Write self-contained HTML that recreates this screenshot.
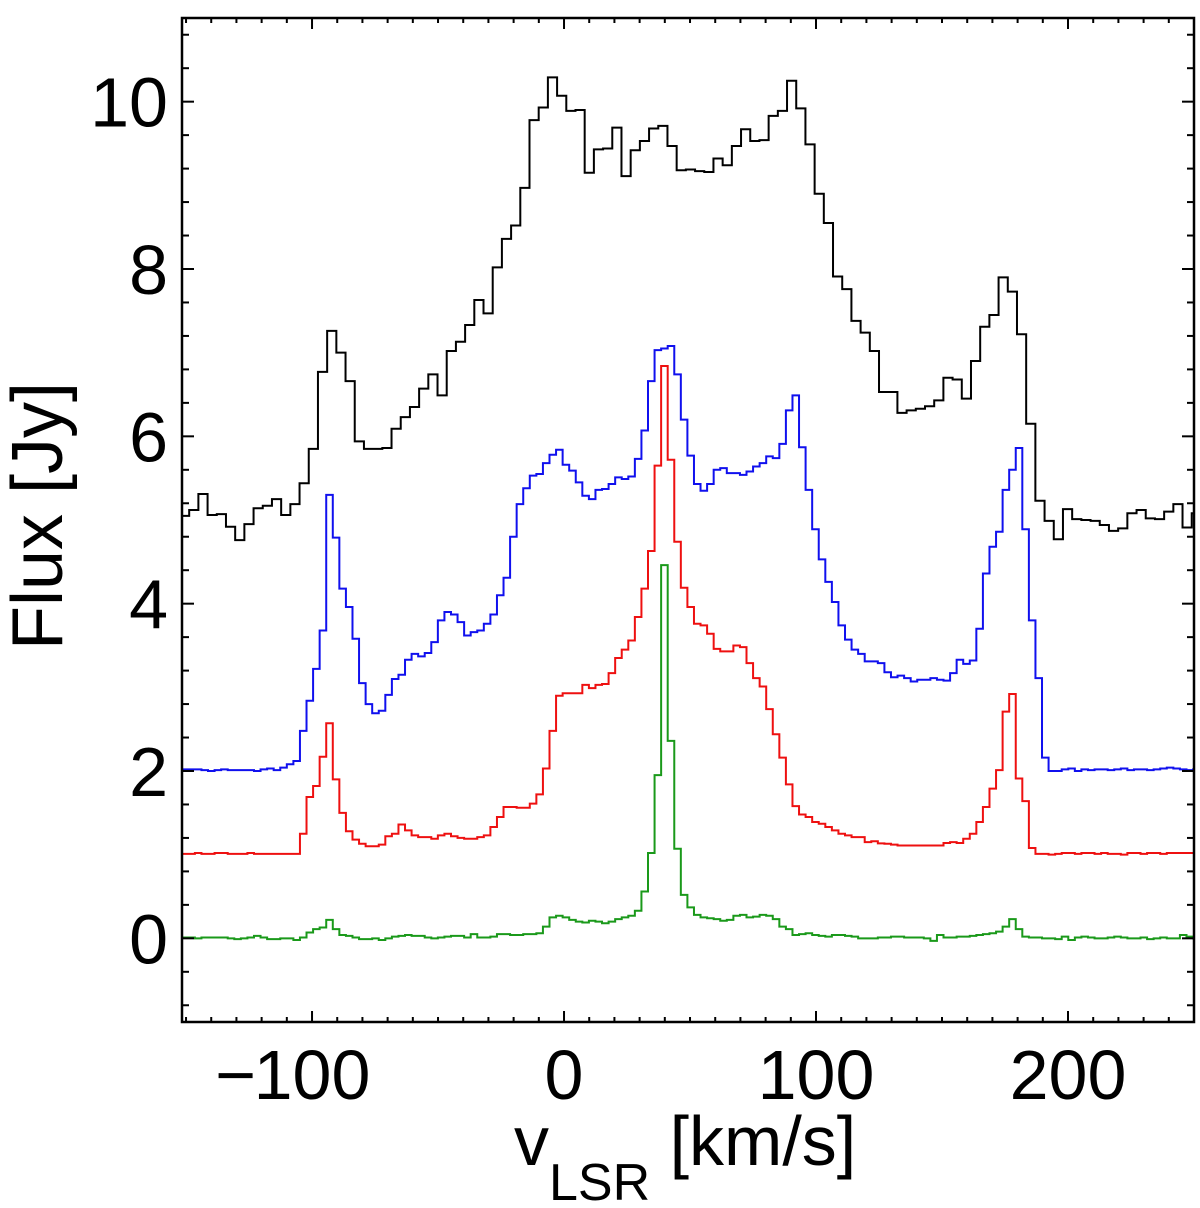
<!DOCTYPE html>
<html><head><meta charset="utf-8"><style>
html,body{margin:0;padding:0;background:#fff;}
svg{display:block;font-family:"Liberation Sans",sans-serif;}
</style></head><body>
<svg id="chart" width="1200" height="1208" viewBox="0 0 1200 1208" xmlns="http://www.w3.org/2000/svg">
<defs><clipPath id="plotclip"><rect x="182" y="18" width="1012" height="1004"/></clipPath></defs>
<g id="series" clip-path="url(#plotclip)"></g>
<g id="axes"></g>
<text transform="translate(62,516) rotate(-90)" text-anchor="middle" font-size="72">Flux [Jy]</text>
<text font-size="70"><tspan x="514" y="1165">v</tspan><tspan font-size="52" dy="35">LSR</tspan><tspan dy="-35"> [km/s]</tspan></text>
</svg>
<script>
const xTicksMajor = [-100, 0, 100, 200];
const xTickLabels = ["\u2212100", "0", "100", "200"];
const yTicksMajor = [0, 2, 4, 6, 8, 10];
const yTickLabels = ["0", "2", "4", "6", "8", "10"];
const xDomain = [-151.6, 250];
const yDomain = [-1, 11];

const blackStart = -152.4;
const blackWidth = 3.65;
const blackFlux = [5.05,5.12,5.31,5.06,5.07,4.92,4.76,4.95,5.14,5.17,
5.25,5.06,5.19,5.44,5.85,6.77,7.26,7.00,6.66,5.94,
5.85,5.85,5.86,6.09,6.23,6.35,6.57,6.74,6.49,7.02,
7.13,7.33,7.63,7.47,8.02,8.36,8.52,8.97,9.78,9.93,
10.29,10.07,9.89,9.90,9.15,9.43,9.44,9.69,9.11,9.42,
9.53,9.68,9.71,9.47,9.18,9.19,9.17,9.16,9.32,9.24,
9.47,9.67,9.53,9.54,9.83,9.89,10.25,9.92,9.49,8.90,
8.55,7.91,7.76,7.38,7.24,7.02,6.53,6.53,6.28,6.31,
6.33,6.36,6.43,6.70,6.68,6.45,6.90,7.31,7.45,7.90,
7.73,7.22,6.15,5.23,4.99,4.77,5.13,5.01,5.00,4.99,
4.94,4.87,4.90,5.08,5.12,5.02,5.01,5.10,5.19,4.91,5.08];

const fineStart = -151.7;
const fineWidth = 2.606;
const blueFlux = [2.02,2.02,2.02,2.01,2.00,2.01,2.02,2.01,2.01,2.01,2.01,2.00,2.02,2.03,2.01,2.04,2.08,
2.12,2.48,2.84,3.22,3.68,5.30,4.79,4.18,3.96,3.58,3.05,2.80,2.69,2.72,2.91,3.10,3.15,3.33,3.40,3.37,
3.41,3.54,3.80,3.90,3.87,3.78,3.62,3.66,3.68,3.76,3.87,4.10,4.31,4.80,5.19,5.38,5.53,5.55,5.68,
5.78,5.84,5.66,5.59,5.45,5.29,5.25,5.36,5.37,5.43,5.51,5.49,5.52,5.73,6.07,6.66,7.03,7.05,7.08,6.74,
6.20,5.77,5.43,5.35,5.43,5.60,5.62,5.56,5.56,5.54,5.58,5.64,5.68,5.76,5.74,5.91,6.31,6.49,5.87,5.36,
4.89,4.53,4.26,4.02,3.74,3.57,3.45,3.40,3.31,3.31,3.29,3.18,3.12,3.14,3.11,3.07,3.09,3.09,3.11,3.09,3.08,
3.17,3.33,3.28,3.32,3.70,4.36,4.68,4.86,5.36,5.60,5.86,4.89,3.80,3.11,2.16,2.00,
2.00,2.02,2.03,2.00,2.02,2.01,2.02,2.02,2.01,2.02,2.03,2.01,2.02,2.02,2.01,2.02,2.03,2.04,2.03,2.02,2.01,2.02];
const redFlux = [1.01,1.01,1.02,1.01,1.01,1.02,1.02,1.01,1.01,1.01,1.02,1.01,1.01,1.01,1.01,1.01,1.01,1.01,
1.25,1.69,1.82,2.17,2.57,1.90,1.50,1.28,1.18,1.13,1.10,1.10,1.12,1.22,1.25,1.36,1.29,1.23,1.21,1.21,
1.19,1.23,1.25,1.22,1.20,1.19,1.19,1.21,1.23,1.33,1.45,1.57,1.57,1.56,1.56,1.61,1.72,2.03,2.48,
2.90,2.93,2.93,2.93,3.03,2.99,3.03,3.04,3.17,3.35,3.45,3.56,3.84,4.18,
4.63,5.65,6.84,5.72,4.74,4.19,3.96,3.76,3.74,3.64,3.46,3.43,3.43,3.50,3.48,3.29,3.11,3.01,2.74,2.44,2.16,1.84,
1.58,1.48,1.45,1.39,1.37,1.33,1.29,1.25,1.23,1.21,1.21,1.15,1.16,
1.135,1.13,1.12,1.11,1.11,1.11,1.11,1.11,1.11,1.11,1.14,1.15,1.14,1.19,1.25,1.39,1.57,1.79,2.01,2.71,2.92,
1.91,1.64,1.08,1.01,1.01,1.00,1.01,1.02,1.02,1.01,1.02,1.02,1.01,1.02,1.01,1.01,1.00,1.02,1.02,1.01,1.02,1.02,1.01,1.02,1.02,1.02,1.02,1.02];
const greenFlux = [0.01,0.01,0.00,0.01,0.01,0.01,0.01,0.00,-0.01,0.00,0.01,0.03,0.01,-0.01,-0.01,0.00,0.00,-0.02,0.01,0.07,0.11,
0.13,0.22,0.11,0.04,0.03,0.01,-0.01,-0.01,0.00,-0.02,0.00,0.02,0.03,0.04,0.03,0.03,0.01,0.00,0.01,0.02,
0.03,0.03,0.01,0.05,0.01,0.01,0.02,0.05,0.05,0.04,0.04,0.05,0.05,0.06,0.14,0.25,0.27,0.25,0.22,0.20,
0.19,0.21,0.20,0.18,0.20,0.23,0.25,0.27,0.33,0.56,1.02,1.95,4.46,2.36,1.07,0.52,0.37,0.28,0.25,0.24,
0.23,0.21,0.22,0.27,0.28,0.25,0.26,0.28,0.27,0.23,0.14,0.11,0.04,0.05,0.06,0.04,0.03,0.02,0.04,0.04,
0.03,0.02,0.00,0.00,0.00,0.01,0.01,0.02,0.02,0.01,0.01,0.01,0.00,-0.03,0.04,0.01,0.01,0.02,0.02,0.03,
0.04,0.05,0.06,0.08,0.14,0.23,0.11,0.02,0.01,0.01,0.00,0.00,-0.01,0.02,-0.02,0.01,0.02,0.01,0.00,0.00,
0.01,0.02,0.01,0.00,0.00,0.01,-0.01,0.00,0.01,0.00,0.00,0.04,0.02,0.00];

const PL = 182, PR = 1194, PT = 18, PB = 1022;
const NS = "http://www.w3.org/2000/svg";
function xs(v){ return PL + (v - xDomain[0]) / (xDomain[1] - xDomain[0]) * (PR - PL); }
function ys(f){ return PB - (f - yDomain[0]) / (yDomain[1] - yDomain[0]) * (PB - PT); }
function stairs(start, width, vals){
  let d = "";
  vals.forEach((f, i) => {
    const x0 = xs(start + i * width), x1 = xs(start + (i + 1) * width), y = ys(f);
    d += (i === 0 ? "M" + x0.toFixed(2) + "," + y.toFixed(2) : "V" + y.toFixed(2)) + "H" + x1.toFixed(2);
  });
  return d;
}
const seriesG = document.getElementById('series');
function addSeries(name, start, width, vals, color){
  const p = document.createElementNS(NS, 'path');
  p.setAttribute('d', stairs(start, width, vals));
  p.setAttribute('fill', 'none');
  p.setAttribute('stroke', color);
  p.setAttribute('stroke-width', '2');
  
  
  seriesG.appendChild(p);
}
addSeries('black-spectrum', blackStart, blackWidth, blackFlux, '#000');
addSeries('blue-spectrum', fineStart, fineWidth, blueFlux, '#1010ee');
addSeries('red-spectrum', fineStart, fineWidth, redFlux, '#ee1010');
addSeries('green-spectrum', fineStart, fineWidth, greenFlux, '#1a991a');

const axes = document.getElementById('axes');
function line(x1,y1,x2,y2,name){
  const l = document.createElementNS(NS,'line');
  l.setAttribute('x1',x1); l.setAttribute('y1',y1); l.setAttribute('x2',x2); l.setAttribute('y2',y2);
  l.setAttribute('stroke','#000'); l.setAttribute('stroke-width','2');
  
  
  axes.appendChild(l);
}
const frame = document.createElementNS(NS,'rect');
frame.setAttribute('x',PL); frame.setAttribute('y',PT); frame.setAttribute('width',PR-PL); frame.setAttribute('height',PB-PT);
frame.setAttribute('fill','none'); frame.setAttribute('stroke','#000'); frame.setAttribute('stroke-width','2.5');


axes.appendChild(frame);
for (let v = -150; v <= 250; v += 10){
  if (v < xDomain[0] || v > xDomain[1]) continue;
  const major = v % 100 === 0;
  const len = major ? 11 : 5;
  const x = xs(v);
  line(x, PB, x, PB - len, 'x-tick');
  line(x, PT, x, PT + len, 'x-tick-top');
}
for (let k = -5; k <= 55; k++){
  const f = k * 0.2;
  if (k % 2 !== 0 || f < yDomain[0] || f > yDomain[1]) continue;
  const major = k % 10 === 0;
  const len = major ? 12 : 7;
  const y = ys(f);
  line(PL, y, PL + len, y, 'y-tick');
  line(PR, y, PR - len, y, 'y-tick-right');
}
xTicksMajor.forEach((v, i) => {
  const lab = xTickLabels[i];
  const t = document.createElementNS(NS,'text');
  t.setAttribute('y', 1099);
  t.setAttribute('font-size', 70);
  if (lab.startsWith("\u2212")){
    t.setAttribute('x', xs(v));
    t.setAttribute('text-anchor','middle');
    t.textContent = lab.slice(1);
    const m = document.createElementNS(NS,'text');
    m.setAttribute('x', xs(v) - 56);
    m.setAttribute('y', 1099);
    m.setAttribute('font-size', 70);
    m.setAttribute('text-anchor','end');
    m.textContent = "\u2212";
    
    
    axes.appendChild(m);
  } else {
    t.setAttribute('x', xs(v));
    t.setAttribute('text-anchor','middle');
    t.textContent = lab;
  }
  
  
  axes.appendChild(t);
});
yTicksMajor.forEach((f, i) => {
  const t = document.createElementNS(NS,'text');
  t.setAttribute('x', 168);
  t.setAttribute('y', ys(f) + 25);
  t.setAttribute('font-size', 70);
  t.setAttribute('text-anchor','end');
  t.textContent = yTickLabels[i];
  
  
  axes.appendChild(t);
});
</script>
</body></html>
